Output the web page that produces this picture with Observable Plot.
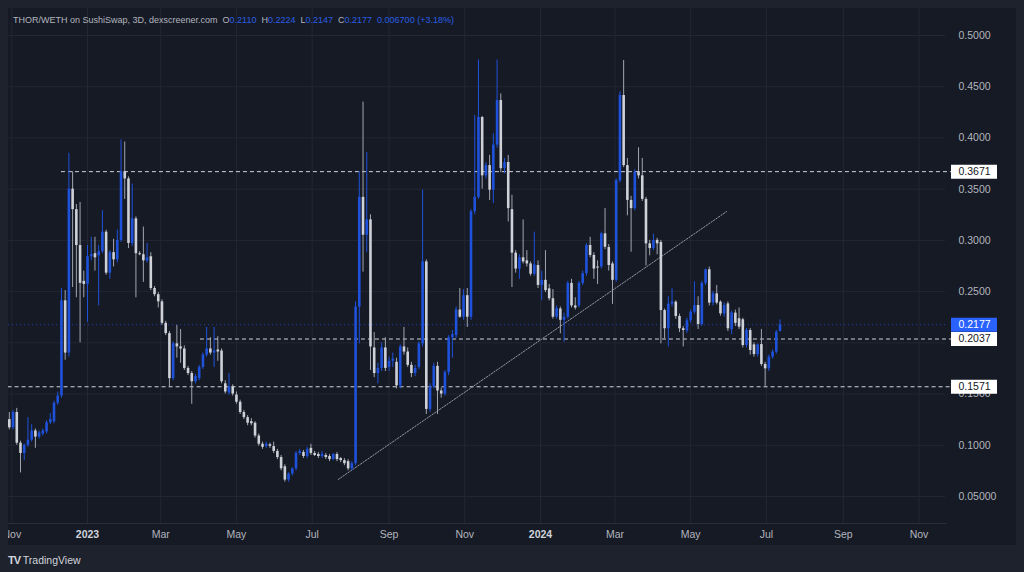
<!DOCTYPE html>
<html><head><meta charset="utf-8">
<script src="https://cdn.jsdelivr.net/npm/d3@7"></script>
<script src="https://cdn.jsdelivr.net/npm/@observablehq/plot@0.6"></script>
<style>
html,body{margin:0;padding:0;background:#1e222d;width:1024px;height:572px;overflow:hidden;font-family:"Liberation Sans",Arial,sans-serif;}
#pane{position:absolute;left:8px;top:8px;width:1008px;height:537px;background:#161a25;overflow:hidden;}
#legend{position:absolute;left:13px;top:14px;font-size:9px;color:#b2b5be;white-space:pre;line-height:12px;z-index:2;}
#legend .v{color:#2a5ee6}
#footer{position:absolute;left:8px;top:554px;font-size:10.5px;color:#d1d4dc;white-space:pre;line-height:13px;}
#footer b{font-weight:900;letter-spacing:-1px;font-size:11px;}
</style></head>
<body>
<div id="pane"></div>
<div id="legend">THOR/WETH on SushiSwap, 3D, dexscreener.com  O<span class="v">0.2110</span>  H<span class="v">0.2224</span>  L<span class="v">0.2147</span>  C<span class="v">0.2177</span>  <span class="v">0.006700 (+3.18%)</span></div>
<div id="footer"><b>TV</b> TradingView</div>
<script>
// ---- data ----
const startDate = "2022-10-30";
const stepDays = 3;
const opens = [
 .125,.117,.132,.102,.092,.100,.105,.114,.108,.111,
 .113,.122,.123,.141,.148,.241,.190,.350,.330,.295,
 .260,.257,.284,.287,.285,.289,.308,.268,.288,.281,
 .300,.367,.360,.297,.321,.287,.286,.280,.284,.253,
 .247,.240,.219,.209,.165,.199,.196,.194,.175,.170,
 .162,.165,.176,.188,.194,.190,.193,.192,.160,.151,
 .157,.149,.142,.132,.127,.123,.1215,.109,.101,
 .099,.1005,.0987,.094,.088,.079,.066,.072,.077,.092,
 .093,.089,.097,.092,.091,.089,.090,.089,.086,.091,
 .087,.085,.084,.077,.082,.235,.342,.305,.320,.195,
 .170,.175,.195,.176,.182,.181,.158,.196,.191,.178,
 .170,.176,.199,.279,.135,.157,.177,.153,.150,.171,
 .205,.207,.232,.225,.246,.225,.328,.342,.420,.363,
 .373,.349,.393,.4365,.370,.376,.330,.2875,.272,.283,
 .280,.277,.267,.2755,.256,.261,.2527,.243,.225,.233,
 .222,.225,.258,.236,.236,.258,.2675,.295,.2853,.274,
 .274,.3064,.293,.277,.261,.358,.4414,.373,.339,.331,
 .367,.363,.340,.2966,.292,.300,.298,.2315,.2137,.2378,
 .2397,.2257,.2137,.2116,.2215,.2299,.2364,.2179,.258,.2713,
 .2388,.2478,.2397,.2283,.238,.2128,.229,.2235,.2225,.1974,
 .212,.198,.1885,.1983,.1788,.1746,.186,.1909,.211
];
const highs = [
 .132,.134,.136,.104,.101,.127,.120,.116,.114,.116,
 .124,.131,.143,.152,.253,.251,.385,.367,.335,.337,
 .270,.295,.303,.303,.295,.329,.310,.290,.301,.310,
 .398,.396,.362,.355,.323,.289,.313,.297,.288,.255,
 .249,.242,.221,.211,.201,.217,.213,.197,.177,.172,
 .169,.178,.190,.215,.205,.215,.206,.194,.163,.170,
 .159,.152,.144,.134,.129,.126,.123,.111,.103,
 .103,.102,.103,.096,.090,.081,.073,.078,.094,.096,
 .095,.098,.101,.094,.093,.094,.092,.091,.092,.093,
 .088,.087,.086,.084,.240,.367,.435,.386,.325,.210,
 .180,.200,.205,.186,.190,.185,.198,.215,.195,.181,
 .178,.201,.349,.281,.160,.180,.181,.156,.173,.207,
 .212,.235,.253,.252,.253,.330,.422,.476,.421,.376,
 .383,.404,.476,.443,.380,.383,.344,.290,.286,.320,
 .290,.279,.308,.280,.270,.290,.257,.252,.236,.235,
 .229,.260,.262,.244,.260,.270,.297,.303,.288,.280,
 .308,.331,.296,.279,.360,.445,.4756,.380,.343,.369,
 .3904,.380,.342,.300,.306,.302,.300,.233,.245,.2527,
 .241,.228,.216,.224,.232,.2595,.245,.260,.272,.274,
 .250,.256,.241,.239,.240,.231,.232,.234,.224,.214,
 .214,.200,.199,.213,.181,.188,.193,.212,.2224
];
const lows = [
 .115,.115,.100,.073,.085,.098,.103,.097,.106,.109,
 .111,.120,.121,.139,.146,.183,.186,.254,.244,.200,
 .244,.220,.280,.270,.236,.287,.266,.262,.274,.278,
 .298,.340,.292,.294,.244,.285,.259,.278,.251,.245,
 .234,.217,.207,.157,.163,.185,.180,.173,.168,.140,
 .160,.163,.174,.186,.188,.176,.182,.160,.150,.149,
 .148,.140,.130,.125,.119,.119,.107,.099,.096,
 .097,.097,.092,.086,.075,.064,.064,.070,.075,.090,
 .087,.087,.090,.089,.087,.087,.086,.084,.085,.084,
 .083,.080,.075,.075,.080,.199,.269,.288,.173,.166,
 .160,.172,.172,.172,.176,.155,.155,.188,.176,.166,
 .167,.174,.196,.130,.132,.155,.130,.146,.148,.168,
 .185,.204,.224,.222,.215,.222,.325,.340,.350,.360,
 .339,.336,.390,.366,.365,.318,.254,.268,.262,.277,
 .274,.265,.265,.253,.241,.249,.241,.223,.223,.2088,
 .2006,.223,.234,.232,.234,.256,.265,.283,.262,.257,
 .272,.291,.270,.2375,.259,.356,.371,.324,.2885,.329,
 .360,.338,.275,.285,.290,.286,.199,.204,.196,.235,
 .223,.210,.196,.209,.219,.228,.213,.216,.256,.236,
 .236,.237,.226,.225,.211,.208,.216,.213,.195,.195,
 .188,.186,.186,.177,.1574,.172,.184,.189,.2105
];
const closes = [
 .117,.132,.102,.092,.100,.105,.114,.108,.112,.114,
 .122,.125,.141,.148,.241,.190,.350,.330,.295,.258,
 .257,.284,.286,.283,.289,.308,.268,.288,.281,.300,
 .367,.360,.297,.321,.287,.286,.280,.283,.253,.247,
 .240,.219,.209,.165,.199,.196,.194,.175,.170,.162,
 .167,.176,.188,.194,.190,.192,.191,.162,.152,.157,
 .150,.142,.132,.127,.1215,.121,.109,.101,.098,
 .101,.099,.094,.088,.077,.066,.072,.077,.092,.094,
 .089,.096,.092,.090,.089,.091,.088,.086,.091,.086,
 .085,.082,.077,.082,.235,.342,.305,.320,.196,.170,
 .175,.195,.175,.182,.184,.158,.196,.191,.178,.170,
 .175,.199,.279,.135,.157,.177,.153,.150,.171,.205,
 .208,.232,.225,.246,.225,.328,.342,.420,.363,.373,
 .349,.393,.4365,.370,.376,.331,.2875,.272,.283,.279,
 .277,.267,.276,.256,.261,.251,.243,.225,.2335,.222,
 .225,.258,.236,.234,.258,.2675,.295,.2853,.272,.273,
 .3064,.2933,.2755,.261,.3584,.4414,.373,.339,.331,.3666,
 .363,.340,.2966,.292,.2997,.2966,.2315,.2137,.2378,.2397,
 .2257,.2137,.212,.2215,.2299,.2364,.2179,.258,.2713,.2388,
 .2478,.2388,.2283,.2365,.2137,.2292,.219,.2153,.1974,.2124,
 .1925,.1885,.198,.1788,.1746,.186,.1909,.2104,.2177
];
const yTicks = [0.05,0.10,0.15,0.20,0.25,0.30,0.35,0.40,0.45,0.50];
const yTickLabels = ["0.05000","0.1000","0.1500","0.2000","0.2500","0.3000","0.3500","0.4000","0.4500","0.5000"];
const monthTicks = ["2022-11-01","2023-03-01","2023-05-01","2023-07-01","2023-09-01","2023-11-01","2024-03-01","2024-05-01","2024-07-01","2024-09-01","2024-11-01"];
const monthLabels = ["Nov","Mar","May","Jul","Sep","Nov","Mar","May","Jul","Sep","Nov"];
const yearTicks = ["2023-01-01","2024-01-01"];
const yearLabels = ["2023","2024"];
const levelValues = [0.3671, 0.2037, 0.1571];
const levelStarts = ["2022-12-11","2023-04-02","2022-10-29"];
const lastPrice = 0.2177;
const trendDates = ["2023-07-22","2024-05-30"];
const trendValues = [0.0666, 0.3282];
const xDomain = ["2022-10-29T08:00Z","2024-11-22T08:00Z"];
const yDomain = [0.023624, 0.526357];

// ---- build ----
const DAY = 864e5;
const t0 = Date.parse(startDate);
const candles = opens.map((o, i) => ({
  date: new Date(t0 + i * stepDays * DAY),
  open: o, high: highs[i], low: lows[i], close: closes[i]
}));
const ups = candles.filter(d => d.close >= d.open);
const downs = candles.filter(d => d.close < d.open);
const levels = levelValues.map((v, i) => ({value: v, start: new Date(levelStarts[i]), label: v.toFixed(4)}));
const trend = trendDates.map((d, i) => ({date: new Date(d), value: trendValues[i]}));
const xEnd = new Date(Date.parse(xDomain[1]) + 5 * DAY);
const mT = monthTicks.map(d => new Date(d));
const yT = yearTicks.map(d => new Date(d));
const allT = mT.concat(yT);

const UP = "#1f52dc", DOWN = "#cfd1d8", DOWNWICK = "#a3a6af";

const chart = Plot.plot({
  width: 1008, height: 537,
  marginLeft: 0, marginRight: 71, marginTop: 0, marginBottom: 22,
  style: {background: "transparent", color: "#b2b5be", fontFamily: "'Liberation Sans', Arial, sans-serif", fontSize: "10.5px", overflow: "visible"},
  x: {type: "utc", domain: xDomain.map(d => new Date(d))},
  y: {domain: yDomain},
  marks: [
    Plot.gridY(yTicks, {stroke: "#232734", strokeOpacity: 1}),
    Plot.gridX(allT, {stroke: "#232734", strokeOpacity: 1}),
    Plot.frame({anchor: "bottom", stroke: "#2a2e39"}),
    Plot.ruleY([lastPrice], {stroke: UP, strokeDasharray: "1,3", strokeWidth: 1, strokeOpacity: 0.75}),
    Plot.ruleY(levels, {y: "value", x1: "start", x2: () => xEnd, stroke: "#d1d4dc", strokeDasharray: "4,3", strokeWidth: 1}),
    Plot.line(trend, {x: "date", y: "value", stroke: "#9598a1", strokeDasharray: "1.5,1.5", strokeWidth: 1}),
    Plot.ruleX(downs, {x: "date", y1: "low", y2: "high", stroke: DOWNWICK, strokeWidth: 1}),
    Plot.ruleX(ups, {x: "date", y1: "low", y2: "high", stroke: UP, strokeWidth: 1}),
    Plot.ruleX(downs, {x: "date", y1: "open", y2: "close", stroke: DOWN, strokeWidth: 2.6}),
    Plot.ruleX(ups, {x: "date", y1: "open", y2: "close", stroke: UP, strokeWidth: 2.6}),
    Plot.axisY(yTicks, {anchor: "right", tickSize: 0, tickPadding: 13, tickFormat: d => yTickLabels[yTicks.indexOf(d)], fill: "#b2b5be", fontSize: 10.5}),
    Plot.axisX(mT, {anchor: "bottom", tickSize: 0, tickPadding: 7, tickFormat: (d) => monthLabels[mT.findIndex(t => +t === +d)], fill: "#b2b5be", fontSize: 10.5}),
    Plot.axisX(yT, {anchor: "bottom", tickSize: 0, tickPadding: 7, tickFormat: (d) => yearLabels[yT.findIndex(t => +t === +d)], fill: "#d1d4dc", fontWeight: "bold", fontSize: 10.5}),
    Plot.ruleY(levels, {y: "value", stroke: "#ffffff", strokeWidth: 14, insetLeft: 943, insetRight: -52}),
    Plot.text(levels, {y: "value", text: "label", frameAnchor: "right", dx: 13, textAnchor: "start", fill: "#131722", fontSize: 10.5}),
    Plot.ruleY([lastPrice], {stroke: "#2962ff", strokeWidth: 14, insetLeft: 943, insetRight: -52}),
    Plot.text([lastPrice], {y: d => d, text: d => d.toFixed(4), frameAnchor: "right", dx: 13, textAnchor: "start", fill: "#ffffff", fontSize: 10.5})
  ]
});
document.getElementById("pane").appendChild(chart);
</script>
</body></html>
